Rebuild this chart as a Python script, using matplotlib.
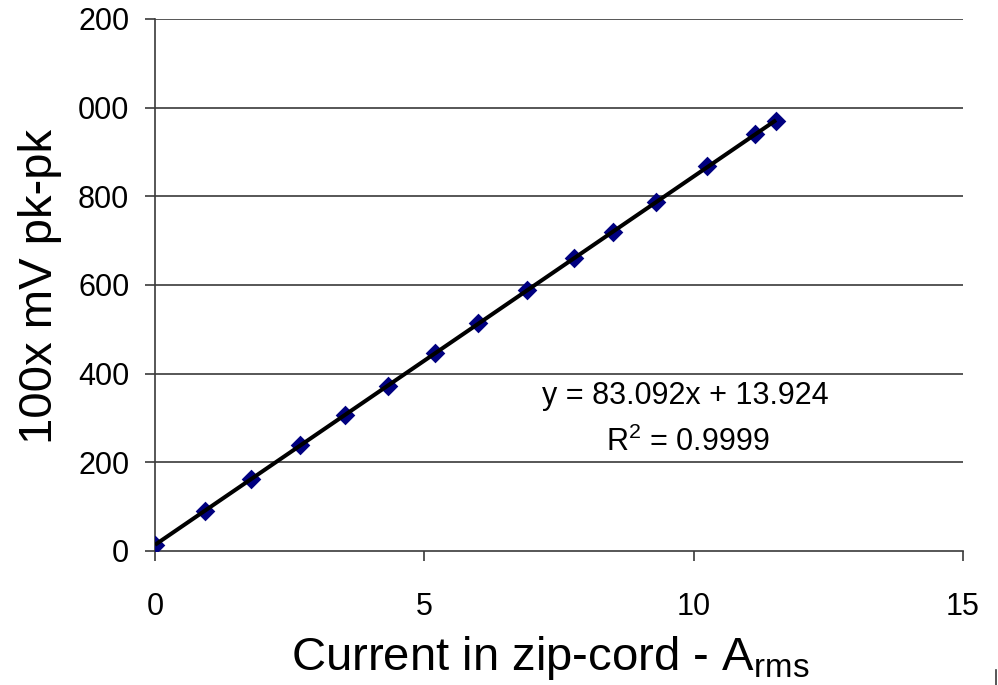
import matplotlib
matplotlib.use("Agg")
import matplotlib.pyplot as plt
from matplotlib.lines import Line2D
import numpy as np

# Data
current_a = [0.0, 0.93, 1.78, 2.70, 3.52, 4.33, 5.20, 6.00, 6.90, 7.78, 8.50, 9.30, 10.25, 11.14, 11.53]
voltage_100x = [14, 91, 162, 239, 307, 373, 446, 514, 589, 662, 720, 788, 869, 940, 971]
fit_slope = 83.092
fit_intercept = 13.924
r_squared = "0.9999"
x_ticks = [0, 5, 10, 15]
y_ticks = [0, 200, 400, 600, 800, 1000, 1200]
y_tick_labels = ["0", "200", "400", "600", "800", "000", "200"]

plt.rcParams['font.family'] = ['Liberation Sans', 'DejaVu Sans']
plt.rcParams['mathtext.fontset'] = 'custom'
plt.rcParams['mathtext.rm'] = 'Liberation Sans'
plt.rcParams['mathtext.it'] = 'Liberation Sans'

fig = plt.figure(figsize=(9.98, 6.85), dpi=100)
ax = fig.add_axes([155/998, 1-551/685, (963-155)/998, (551-19)/685])

ax.set_xlim(0, 15)
ax.set_ylim(0, 1200)
ax.set_xticks(x_ticks)
ax.set_yticks(y_ticks)
ax.set_yticklabels(y_tick_labels)

for yv in y_ticks[1:]:
    ax.axhline(yv, color='#3a3a3a', lw=1.2, zorder=1)

ax.scatter(current_a, voltage_100x, marker='D', s=100, color='#000080', zorder=3, linewidths=0)
xs = np.array([min(current_a), max(current_a)])
ax.plot(xs, fit_slope*xs + fit_intercept, color='black', lw=2.9, zorder=4, solid_capstyle='butt')

for s in ['top', 'right']:
    ax.spines[s].set_visible(False)
for s in ['left', 'bottom']:
    ax.spines[s].set_color('#3a3a3a')
    ax.spines[s].set_linewidth(1.2)

ax.tick_params(axis='both', direction='out', length=7.5, width=1.2, color='#3a3a3a', labelsize=22)
ax.tick_params(axis='y', pad=11)
ax.tick_params(axis='x', pad=22)

fig.text(40/998, 1-286/685, "100x mV pk-pk", rotation=90, ha='center', va='center', fontsize=34)
fig.text(550/998, 1-670/685, "Current in zip-cord - A$_{\\mathrm{rms}}$", ha='center', va='baseline', fontsize=34)

fig.text(685/998, 1-404/685, f"y = {fit_slope}x + {fit_intercept}", ha='center', va='baseline', fontsize=22)
fig.text(688/998, 1-451/685, "R$^{2}$ = " + r_squared, ha='center', va='baseline', fontsize=22)

fig.add_artist(Line2D([996/998, 996/998], [0, 15/685], color='#3a3a3a', lw=1.2))

fig.savefig("out.png", dpi=100)
